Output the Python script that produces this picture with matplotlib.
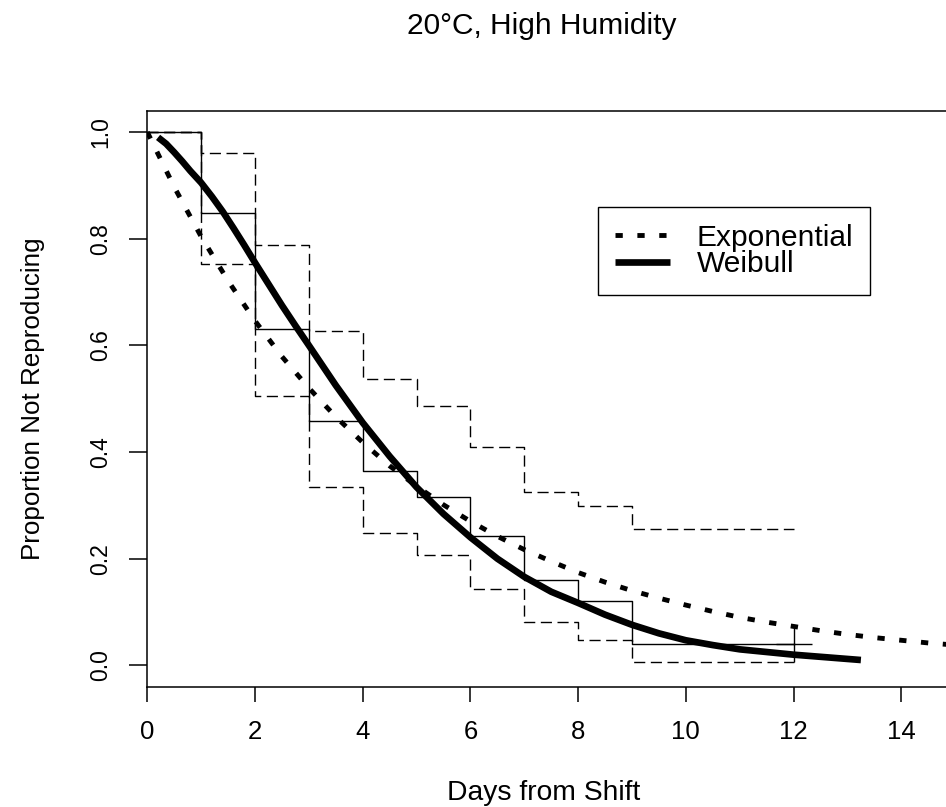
import matplotlib
matplotlib.use("Agg")
import matplotlib.pyplot as plt

plt.rcParams["font.family"] = ["Liberation Sans", "DejaVu Sans"]

# ================================
# Kaplan-Meier estimate with 95% bounds
# ================================
km_days = [0, 1, 2, 3, 4, 5, 6, 7, 8, 9, 12]
km_surv = [1.0, 0.848, 0.630, 0.458, 0.364, 0.316, 0.243, 0.160, 0.121, 0.040, 0.040]
km_upper = [1.0, 0.960, 0.788, 0.627, 0.536, 0.486, 0.410, 0.325, 0.298, 0.256, 0.256]
km_lower = [1.0, 0.752, 0.505, 0.335, 0.249, 0.206, 0.143, 0.082, 0.048, 0.006, 0.006]
censor_day = [12]
censor_surv = [0.040]

# Fitted curves (sampled from the figure)
exp_days = [0, 0.5, 1, 1.5, 2, 2.5, 3, 3.5, 4, 4.5, 5, 5.5, 6, 6.5, 7, 7.5, 8, 8.5,
            9, 9.5, 10, 10.5, 11, 11.5, 12, 12.5, 13, 13.5, 14, 14.5, 15]
exp_surv = [1.0, 0.897, 0.804, 0.721, 0.646, 0.579, 0.520, 0.466, 0.418, 0.374, 0.336,
            0.301, 0.270, 0.242, 0.217, 0.195, 0.174, 0.156, 0.140, 0.126, 0.113, 0.101,
            0.090, 0.081, 0.073, 0.065, 0.058, 0.052, 0.047, 0.042, 0.038]

weib_days = [0.2, 0.35, 0.5, 0.65, 0.8, 1, 1.2, 1.4, 1.6, 1.8, 2, 2.25, 2.5, 2.75, 3,
             3.5, 4, 4.5, 5, 5.5, 6, 6.5, 7, 7.5, 8, 8.5, 9, 9.5, 10, 10.5, 11, 11.5,
             12, 12.5, 13, 13.25]
weib_surv = [0.99, 0.978, 0.962, 0.945, 0.927, 0.905, 0.879, 0.851, 0.820, 0.788, 0.755,
             0.715, 0.675, 0.637, 0.600, 0.525, 0.455, 0.392, 0.334, 0.284, 0.240, 0.200,
             0.166, 0.138, 0.117, 0.095, 0.076, 0.060, 0.047, 0.038, 0.030, 0.025, 0.020,
             0.016, 0.012, 0.010]

x_ticks = [0, 2, 4, 6, 8, 10, 12, 14]
y_ticks = [0.0, 0.2, 0.4, 0.6, 0.8, 1.0]

# ================================
# Plot
# ================================
fig = plt.figure(figsize=(9.46, 8.07), dpi=100)
ax = fig.add_axes([0.1557, 0.1491, 0.8443, 0.7137])

ax.step(km_days, km_surv, where="post", color="black", lw=1.0)
ax.step(km_days, km_upper, where="post", color="black", lw=1.0, dashes=(8, 4))
ax.step(km_days, km_lower, where="post", color="black", lw=1.0, dashes=(8, 4))
ax.plot(censor_day, censor_surv, marker="+", color="black", ms=26, mew=1.0, ls="none")

ax.plot(exp_days, exp_surv, color="black", lw=3.5, dashes=(1.5, 3.0), label="Exponential")
ax.plot(weib_days, weib_surv, color="black", lw=4.8, solid_capstyle="butt",
        solid_joinstyle="round", label="Weibull")

ax.set_xlim(0, 14.83)
ax.set_ylim(-0.04, 1.04)
ax.spines["right"].set_visible(False)
for s in ["left", "top", "bottom"]:
    ax.spines[s].set_linewidth(1.1)

ax.set_xticks(x_ticks)
ax.set_xticklabels([str(t) for t in x_ticks], fontsize=18.5)
ax.set_yticks(y_ticks)
ax.set_yticklabels([f"{t:.1f}" for t in y_ticks], fontsize=16.5, rotation=90, va="center")
ax.tick_params(axis="x", length=11, width=1.1, pad=13)
ax.tick_params(axis="y", length=13, width=1.1, pad=12)

ax.set_xlabel("Days from Shift", fontsize=20.3, va="baseline")
ax.xaxis.set_label_coords(0.496, -0.1967)
ax.set_ylabel("Proportion Not Reproducing", fontsize=18.7, va="center")
ax.yaxis.set_label_coords(-0.1431, 0.4995)

fig.text(541.7 / 946, 1 - 33.5 / 807, "20\u00b0C, High Humidity", fontsize=21.5,
         ha="center", va="baseline")

leg = ax.legend(loc="upper left", bbox_to_anchor=(0.5641, 0.8333), fontsize=21.5,
                frameon=True, fancybox=False, edgecolor="black", framealpha=1,
                borderpad=0.57, labelspacing=-0.06, handlelength=1.84,
                handletextpad=0.9, borderaxespad=0)
leg.get_frame().set_linewidth(1.0)

fig.savefig("out.png", dpi=100)
